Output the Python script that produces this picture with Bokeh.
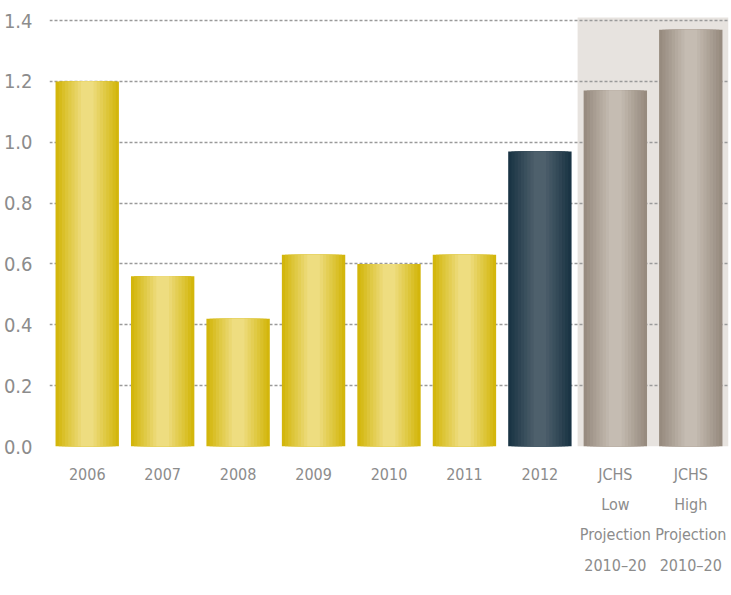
from bokeh.plotting import figure
from bokeh.models import ColumnDataSource, FactorRange, Range1d, BoxAnnotation, FixedTicker
from bokeh.embed import file_html
from bokeh.resources import INLINE

# ---- data ----
categories = ["2006", "2007", "2008", "2009", "2010", "2011", "2012",
              "JCHS\nLow\nProjection\n2010–20", "JCHS\nHigh\nProjection\n2010–20"]
values = [1.20, 0.56, 0.42, 0.63, 0.60, 0.63, 0.97, 1.17, 1.37]
kinds = ["actual"] * 6 + ["latest"] + ["projection"] * 2
y_ticks = [0.0, 0.2, 0.4, 0.6, 0.8, 1.0, 1.2, 1.4]
y_tick_labels = ["0.0", "0.2", "0.4", "0.6", "0.8", "1.0", "1.2", "1.4"]

# ---- styles ----
def blend(c1, c2, t):
    a = [int(c1[i:i + 2], 16) for i in (1, 3, 5)]
    b = [int(c2[i:i + 2], 16) for i in (1, 3, 5)]
    return "#" + "".join("%02x" % round(a[j] + (b[j] - a[j]) * t) for j in range(3))

edge_center = {
    "actual":     ("#d3b60c", "#eedd80"),
    "latest":     ("#1a3444", "#4e606c"),
    "projection": ("#978b7f", "#c5bcb2"),
}
n_layers = 9
layer_widths = [0.84 - i * 0.084 for i in range(n_layers)]
label_font = "'DejaVu Sans Condensed', sans-serif"
label_color = "#8c8c8c"

p = figure(x_range=FactorRange(*categories, range_padding=0, factor_padding=0),
           y_range=Range1d(0, 1.43),
           frame_width=679, frame_height=435, output_backend="svg", toolbar_location=None,
           min_border_left=40, min_border_right=1, min_border_top=11, min_border_bottom=128)
p.outline_line_color = None

shade = BoxAnnotation(left=7, right=9, bottom=0, top=1.41, fill_color="#e7e3df",
                      fill_alpha=1.0, line_color=None, level="image")
p.add_layout(shade)

for i, w in enumerate(layer_widths):
    t = i / (n_layers - 1)
    src = ColumnDataSource(dict(x=categories, top=values,
                                color=[blend(*edge_center[k], t) for k in kinds]))
    p.vbar(x="x", top="top", width=w, source=src, fill_color="color",
           line_color=None)

p.xgrid.grid_line_color = None
p.ygrid.grid_line_color = "#9a9a9a"
p.ygrid.grid_line_dash = "3 2"
p.ygrid.grid_line_width = 1.3
p.ygrid.ticker = FixedTicker(ticks=y_ticks)

p.yaxis.ticker = FixedTicker(ticks=y_ticks)
p.yaxis.major_label_overrides = {t: l for t, l in zip(y_ticks, y_tick_labels)}
p.yaxis.axis_line_color = None
p.yaxis.major_tick_line_color = None
p.yaxis.minor_tick_line_color = None
p.yaxis.major_label_text_font = label_font
p.yaxis.major_label_text_font_size = "20px"
p.yaxis.major_label_text_color = label_color
p.yaxis.major_label_standoff = 11

p.xaxis.axis_line_color = None
p.xaxis.major_tick_line_color = None
p.xaxis.major_label_text_font = label_font
p.xaxis.major_label_text_font_size = "16px"
p.xaxis.major_label_text_color = label_color
p.xaxis.major_label_text_line_height = 1.6
p.xaxis.major_label_standoff = 12

open("out.html", "w").write(file_html(p, INLINE))
